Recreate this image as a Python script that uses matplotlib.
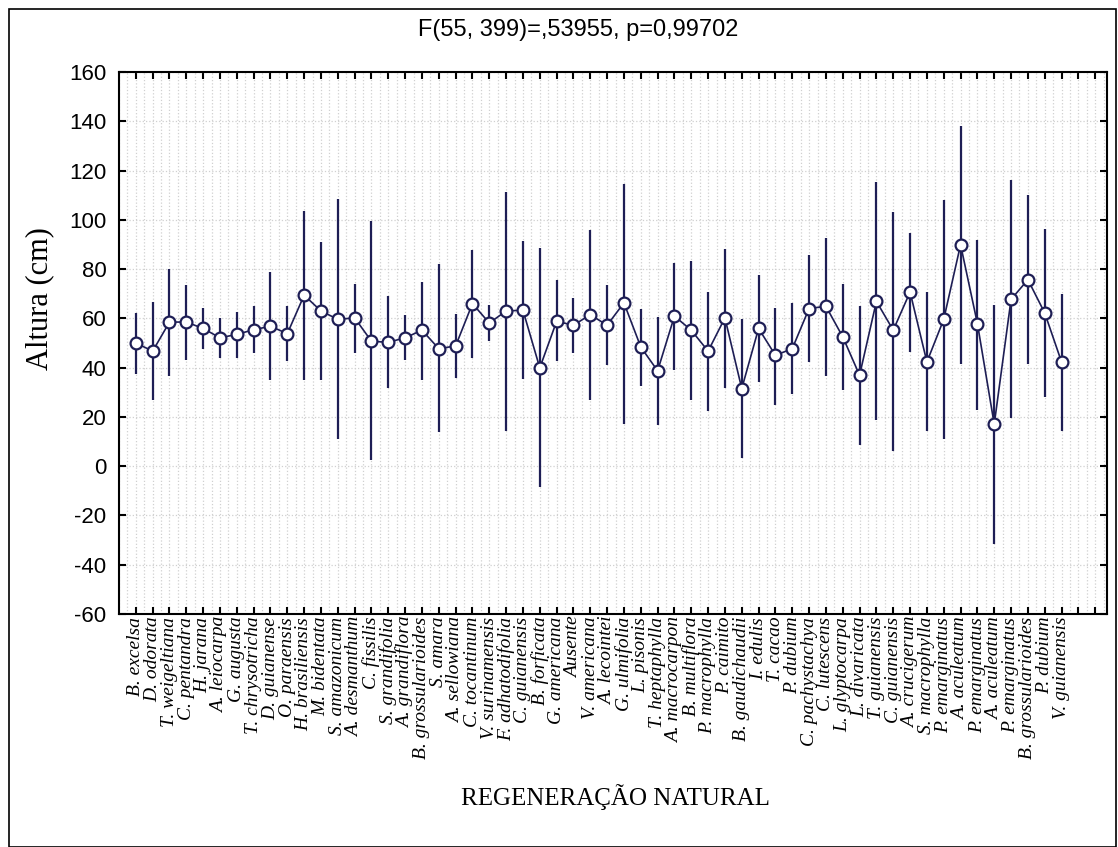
import numpy as np
import matplotlib
matplotlib.use("Agg")
import matplotlib.pyplot as plt
from matplotlib.ticker import MultipleLocator
from matplotlib.patches import Rectangle

plt.rcParams['axes.unicode_minus'] = False

## species names (x categories)
species = ['B. excelsa', 'D. odorata', 'T. weigeltiana', 'C. pentandra', 'H. jarana',
           'A. leiocarpa', 'G. augusta', 'T. chrysotricha', 'D. guianense', 'O. paraensis',
           'H. brasiliensis', 'M. bidentata', 'S. amazonicum', 'A. desmanthum', 'C. fissilis',
           'S. grandifolia', 'A. grandiflora', 'B. grossularioides', 'S. amara', 'A. sellowiana',
           'C. tocantinum', 'V. surinamensis', 'F. adhatodifolia', 'C. guianensis', 'B. forficata',
           'G. americana', 'Ausente', 'V. americana', 'A. lecointei', 'G. ulmifolia',
           'L. pisonis', 'T. heptaphylla', 'A. macrocarpon', 'B. multiflora', 'P. macrophylla',
           'P. caimito', 'B. gaudichaudii', 'I. edulis', 'T. cacao', 'P. dubium',
           'C. pachystachya', 'C. lutescens', 'L. glyptocarpa', 'L. divaricata', 'T. guianensis',
           'C. guianensis', 'A. crucigerum', 'S. macrophylla', 'P. emarginatus', 'A. aculeatum',
           'P. emarginatus', 'A. aculeatum', 'P. emarginatus', 'B. grossularioides', 'P. dubium',
           'V. guianensis']
## mean height (cm)
mean = [50.0, 46.7, 58.5, 58.5, 55.9, 52.1, 53.5, 55.4, 56.8, 53.8,
        69.4, 63.0, 59.6, 60.2, 50.7, 50.3, 52.1, 55.2, 47.7, 48.8,
        66.0, 58.1, 63.0, 63.3, 39.9, 58.8, 57.2, 61.5, 57.2, 66.3,
        48.4, 38.7, 60.9, 55.2, 46.7, 60.2, 31.5, 55.9, 45.0, 47.7,
        64.0, 64.9, 52.5, 36.9, 66.9, 55.2, 70.7, 42.3, 59.6, 89.9,
        57.9, 17.0, 67.7, 75.7, 62.2, 42.3]
## upper / lower ends of the bars
upper = [62.3, 66.7, 80.2, 73.7, 64.4, 60.2, 62.6, 64.9, 78.8, 64.9,
         103.6, 91.0, 108.3, 74.1, 99.5, 69.1, 61.3, 74.8, 82.2, 61.9,
         87.6, 65.3, 111.3, 91.4, 88.7, 75.5, 68.3, 95.7, 73.7, 114.4,
         63.6, 60.6, 82.5, 83.2, 70.7, 88.0, 59.6, 77.5, 64.4, 66.3,
         85.6, 92.6, 74.1, 64.9, 115.3, 103.2, 94.6, 70.7, 108.2, 138.0,
         92.0, 65.3, 116.3, 109.9, 96.4, 70.0]
lower = [37.3, 27.0, 36.5, 43.0, 47.7, 43.9, 43.9, 46.0, 34.9, 42.6,
         34.9, 34.9, 11.2, 46.0, 2.4, 31.9, 43.3, 34.9, 13.7, 35.8,
         44.1, 50.8, 14.2, 35.3, -8.4, 42.6, 46.0, 27.0, 41.0, 17.3,
         32.5, 16.9, 38.9, 27.0, 22.3, 31.9, 3.4, 34.2, 24.7, 29.5,
         42.1, 36.5, 30.8, 8.8, 18.7, 6.2, 46.4, 14.2, 11.2, 41.3,
         23.0, -31.4, 19.6, 41.3, 28.1, 14.2]

navy = '#1e1e55'
x = np.arange(len(species))
m = np.array(mean)
err = [m - np.array(lower), np.array(upper) - m]

fig = plt.figure(figsize=(11.18, 8.47), dpi=100)
ax = fig.add_axes([119/1118, 1-614/847, (1107-119)/1118, (614-72)/847])

ax.errorbar(x, m, yerr=err, fmt='-o', color=navy, ecolor=navy, elinewidth=1.6,
            capsize=0, lw=1.2, ms=8.5, mfc='white', mec=navy, mew=1.6, zorder=3)

ax.set_xlim(-1, 57.7)
ax.set_ylim(-60, 160)
ax.set_yticks(np.arange(-60, 161, 20))
ax.set_xticks(np.arange(0, 58))
ax.set_xticklabels(species + ['', ''], rotation=90, family='Liberation Serif',
                   style='italic', fontsize=14)
ax.xaxis.set_minor_locator(MultipleLocator(0.5))
for t in ax.get_yticklabels():
    t.set_family('Liberation Sans')
    t.set_fontsize(16)

ax.tick_params(axis='x', which='major', direction='in', top=True, length=5, width=1.5, pad=2)
ax.tick_params(axis='x', which='minor', length=0)
ax.tick_params(axis='y', direction='in', right=True, length=5, width=1.5, pad=9)
ax.grid(which='both', axis='x', color='#d0d0d0', linestyle=':', linewidth=0.9)
ax.grid(which='major', axis='y', color='#d0d0d0', linestyle=':', linewidth=0.9)
ax.set_axisbelow(True)
for s in ax.spines.values():
    s.set_linewidth(1.5)

fig.text(578/1118, 1-30/847, 'F(55, 399)=,53955, p=0,99702', ha='center', va='center',
         family='Liberation Sans', fontsize=17)
fig.text(40/1118, 1-299/847, 'Altura (cm)', rotation=90, ha='center', va='center',
         family='Liberation Serif', fontsize=22)
fig.text(615/1118, 1-797/847, 'REGENERAÇÃO NATURAL', ha='center', va='center',
         family='Liberation Serif', fontsize=18)

# outer frame
fig.patches.append(Rectangle((9/1118, 0), (1116-9)/1118, 1-9/847, transform=fig.transFigure,
                             fill=False, edgecolor='black', linewidth=1.2))

fig.savefig('out.png', dpi=100)
